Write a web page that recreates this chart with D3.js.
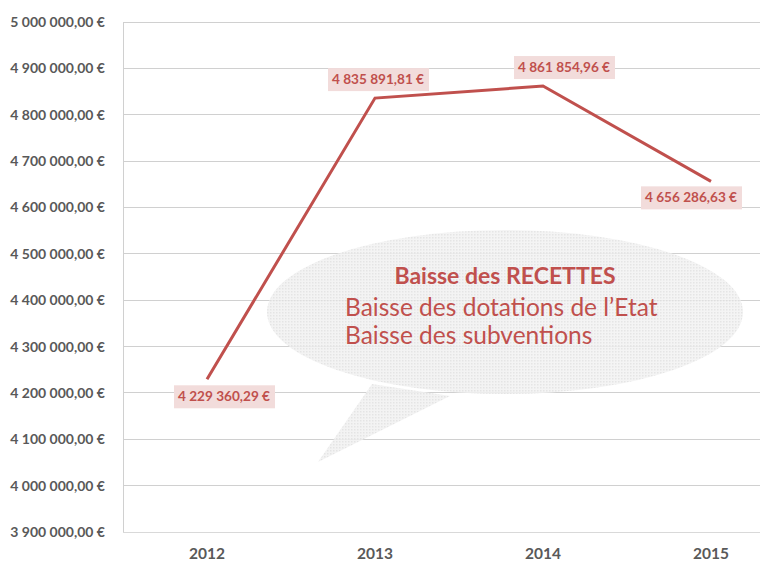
<!DOCTYPE html>
<html><head><meta charset="utf-8">
<script src="https://cdn.jsdelivr.net/npm/d3@7"></script>
<style>body{margin:0;background:#fff}svg{display:block}</style>
</head><body>
<script>
const years = ["2012","2013","2014","2015"];
const recettes = [4229360.29, 4835891.81, 4861854.96, 4656286.63];
const yTicks = [3900000,4000000,4100000,4200000,4300000,4400000,4500000,4600000,4700000,4800000,4900000,5000000];
const labelTexts = ["4 229 360,29 €","4 835 891,81 €","4 861 854,96 €","4 656 286,63 €"];
const bubbleTitle = "Baisse des RECETTES";
const bubbleLines = ["Baisse des dotations de l\u2019Etat","Baisse des subventions"];

(function(){
const W=760,H=565;
const svg=d3.select("body").append("svg").attr("width",W).attr("height",H);
const mLeft=123, mRight=795, mTop=22, mBottom=532;
const x=d3.scaleBand().domain(years).range([mLeft,mRight]);
const y=d3.scaleLinear().domain([3900000,5000000]).range([mBottom,mTop]);
const font="Lato, 'Open Sans', sans-serif";
const fmt=v=>d3.format(",.2f")(v).replace(/,/g," ").replace(".",",")+" €";

const defs=svg.append("defs");
const pat=defs.append("pattern").attr("id","dots").attr("width",3).attr("height",3).attr("patternUnits","userSpaceOnUse");
pat.append("rect").attr("width",3).attr("height",3).attr("fill","#f2f2f2");
pat.append("rect").attr("width",1.5).attr("height",1.5).attr("fill","#e0e0e0");

svg.append("g").selectAll("line").data(yTicks).join("line")
  .attr("x1",mLeft).attr("x2",W).attr("y1",d=>y(d)).attr("y2",d=>y(d))
  .attr("stroke",d=>d===3900000?"#d9d9d9":"#d0d0d0").attr("stroke-width",1).attr("shape-rendering","crispEdges");
svg.append("line").attr("x1",mLeft).attr("x2",mLeft).attr("y1",mTop).attr("y2",mBottom)
  .attr("stroke","#d0d0d0").attr("shape-rendering","crispEdges");

const yAxis=d3.axisLeft(y).tickValues(yTicks).tickSize(0).tickPadding(18).tickFormat(fmt);
const ga=svg.append("g").attr("transform",`translate(${mLeft},0)`).call(yAxis);
ga.select(".domain").remove();
ga.selectAll("text").attr("font-family",font).attr("font-weight","bold").attr("font-size",14).attr("fill","#595959");

const xAxis=d3.axisBottom(x).tickSize(0).tickPadding(16);
const gx=svg.append("g").attr("transform",`translate(0,${mBottom})`).call(xAxis);
gx.select(".domain").remove();
gx.selectAll("text").attr("font-family",font).attr("font-weight","bold").attr("font-size",15.5).attr("fill","#595959");

const bx=505, by=312, rx=238, ry=82;
const g=svg.append("g").attr("opacity",0.85);
const tail=d3.path();
tail.moveTo(372,384); tail.lineTo(318,462); tail.lineTo(450,396); tail.closePath();
g.append("path").attr("d",tail.toString()).attr("fill","url(#dots)");
g.append("ellipse").attr("cx",bx).attr("cy",by).attr("rx",rx).attr("ry",ry).attr("fill","url(#dots)");

const line=d3.line().x((d,i)=>x(years[i])+x.bandwidth()/2).y(d=>y(d));
svg.append("path").datum(recettes).attr("d",line).attr("fill","none").attr("stroke","#c0504d").attr("stroke-width",3);

svg.append("text").attr("x",505).attr("y",284).attr("text-anchor","middle").attr("font-family",font)
  .attr("font-weight","bold").attr("font-size",23).attr("fill","#c0504d").text(bubbleTitle);
svg.append("g").selectAll("text").data(bubbleLines).join("text")
  .attr("x",345).attr("y",(d,i)=>316+i*28).attr("font-family",font).attr("font-size",24.5).attr("fill","#c0504d").text(d=>d);

const offs=[[17,17],[3,-19],[21,-19],[-20,16]];
const lg=svg.append("g").selectAll("g").data(recettes).join("g")
  .attr("transform",(d,i)=>`translate(${x(years[i])+x.bandwidth()/2+offs[i][0]},${y(d)+offs[i][1]})`);
lg.append("rect").attr("x",-50).attr("y",-11).attr("width",101).attr("height",23).attr("fill","#f2dcdb");
lg.append("text").attr("text-anchor","middle").attr("dy","0.35em").attr("font-family",font).attr("font-weight","bold")
  .attr("font-size",13.6).attr("fill","#c0504d").text((d,i)=>labelTexts[i]);
})();
</script>
</body></html>
